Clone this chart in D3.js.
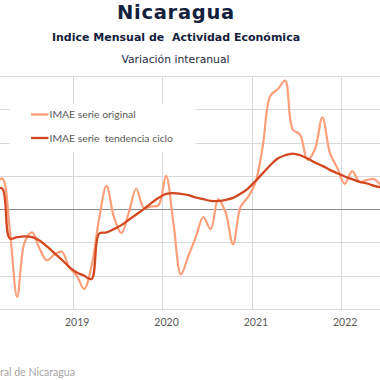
<!DOCTYPE html>
<html>
<head>
<meta charset="utf-8">
<script src="https://cdn.jsdelivr.net/npm/d3@7"></script>
<style>
  html, body { margin: 0; padding: 0; background: #fff; }
  svg { display: block; }
</style>
</head>
<body>
<svg id="chart" width="380" height="380"></svg>
<script>
// ---- data (monthly, Jan 2018 .. Jun 2022) ----
const startYear = 2018;
const yearTicks = [2019, 2020, 2021, 2022];
const yTicks = [-15, -10, -5, 0, 5, 10, 15, 20];
const seriesNames = ["IMAE serie original", "IMAE serie  tendencia ciclo"];
const original = [
  4.0, 3.8, 4.6, -3.0, -13.2, -5.0, -3.5, -5.9, -7.7, -6.8, -6.4, -8.7,
  -10.0, -12.0, -8.5, -1.5, 3.5, -1.2, -3.6, -0.5, 3.1, 0.2, 0.4, 0.6,
  5.0, -2.2, -9.8, -7.0, -4.2, -1.2, -3.0, 1.5, -0.5, -5.3, 0.3, 1.8,
  4.0, 9.5, 17.0, 18.0, 19.3, 12.0, 11.2, 7.4, 9.0, 13.8, 8.5, 6.2,
  3.8, 5.7, 4.1, 4.4, 4.5, 3.3
];
const trend = [
  3.0, 3.1, 3.1, -4.4, -4.2, -4.1, -4.2, -4.7, -5.6, -6.6, -7.6, -8.7,
  -9.5, -10.0, -10.5, -3.7, -3.5, -3.0, -2.4, -1.6, -0.8, 0.0, 0.9, 1.7,
  2.3, 2.4, 2.3, 2.1, 1.75, 1.5, 1.25, 1.2, 1.4, 1.7, 2.3, 3.1,
  4.2, 5.4, 6.6, 7.6, 8.1, 8.35, 8.1, 7.6, 7.0, 6.5, 5.9, 5.4,
  4.9, 4.5, 4.1, 3.85, 3.5, 3.2
];

const svg = d3.select("#chart");
const plotTop = 76, plotBottom = 309;

// x: months since Jan 2018 (category boundaries at integers)
const x = d3.scaleLinear().domain([12, 48]).range([73, 341]);
const y = d3.scaleLinear().domain([-15, 20]).range([plotBottom, plotTop]);

// titles
svg.append("text").attr("x", 176).attr("y", 18.5).attr("text-anchor", "middle")
  .attr("font-family", "DejaVu Sans").attr("font-weight", "bold").attr("font-size", 19.5)
  .attr("letter-spacing", 0.7)
  .attr("fill", "#14213d").text("Nicaragua");
svg.append("text").attr("x", 176).attr("y", 40.7).attr("text-anchor", "middle")
  .attr("font-family", "DejaVu Sans").attr("font-weight", "bold").attr("font-size", 11)
  .attr("fill", "#14213d").style("white-space", "pre")
  .text("Indice Mensual de  Actividad Económica");
svg.append("text").attr("x", 175.5).attr("y", 62.7).attr("text-anchor", "middle")
  .attr("font-family", "DejaVu Sans").attr("font-size", 10.8)
  .attr("fill", "#1f2a44").text("Variación interanual");

// horizontal gridlines
const g = svg.append("g");
g.selectAll("line.h").data(yTicks.filter(v => v !== 0)).enter().append("line")
  .attr("x1", 0).attr("x2", 380)
  .attr("y1", d => Math.round(y(d)) + 0.5).attr("y2", d => Math.round(y(d)) + 0.5)
  .attr("stroke", "#d9d9d9").attr("stroke-width", 1);

// vertical gridlines (year boundaries)
g.selectAll("line.v").data(yearTicks).enter().append("line")
  .attr("x1", d => Math.round(x((d - startYear) * 12)) + 0.5)
  .attr("x2", d => Math.round(x((d - startYear) * 12)) + 0.5)
  .attr("y1", plotTop).attr("y2", plotBottom)
  .attr("stroke", "#d9d9d9").attr("stroke-width", 1);

// legend background box (hides gridlines behind it)
svg.append("rect").attr("x", 9.5).attr("y", 104).attr("width", 186).attr("height", 48)
  .attr("fill", "#fff");

// zero line
svg.append("line").attr("x1", 0).attr("x2", 380)
  .attr("y1", Math.round(y(0)) + 0.5).attr("y2", Math.round(y(0)) + 0.5)
  .attr("stroke", "#8c8c8c").attr("stroke-width", 1);

// x axis labels
const xAxis = d3.axisBottom(x)
  .tickValues(yearTicks.map(yr => (yr - startYear) * 12 + 0.5))
  .tickFormat(d => String(startYear + Math.floor(d / 12)))
  .tickSize(0).tickPadding(10);
const ax = svg.append("g").attr("transform", `translate(0,${plotBottom})`).call(xAxis);
ax.select(".domain").remove();
ax.selectAll("text").attr("font-family", "Lato").attr("font-size", 10.5).attr("fill", "#595959");

// lines
const lineGen = d3.line()
  .x((d, i) => x(i + 0.5))
  .y(d => y(d))
  .curve(d3.curveCatmullRom.alpha(0.5));

svg.append("path").datum(original).attr("d", lineGen)
  .attr("fill", "none").attr("stroke", "#ff9f7a").attr("stroke-width", 2.2)
  .attr("stroke-linejoin", "round");
svg.append("path").datum(trend).attr("d", lineGen)
  .attr("fill", "none").attr("stroke", "#d2471f").attr("stroke-width", 2.3)
  .attr("stroke-linejoin", "round");

// legend
const legendColors = ["#ff9f7a", "#d2471f"];
const lg = svg.append("g");
seriesNames.forEach((name, i) => {
  const ly = 114.5 + i * 23.5;
  lg.append("line").attr("x1", 31).attr("x2", 48.5).attr("y1", ly).attr("y2", ly)
    .attr("stroke", legendColors[i]).attr("stroke-width", 2.3);
  lg.append("text").attr("x", 49.5).attr("y", ly + 3.7)
    .attr("font-family", "Lato").attr("font-size", 10.4).attr("fill", "#595959")
    .style("white-space", "pre").text(name);
});

// source
svg.append("text").attr("x", 75).attr("y", 375.5).attr("text-anchor", "end")
  .attr("font-family", "Lato").attr("font-size", 10.6).attr("fill", "#a6a6a6")
  .text("Fuente: Banco Central de Nicaragua");
</script>
</body>
</html>
